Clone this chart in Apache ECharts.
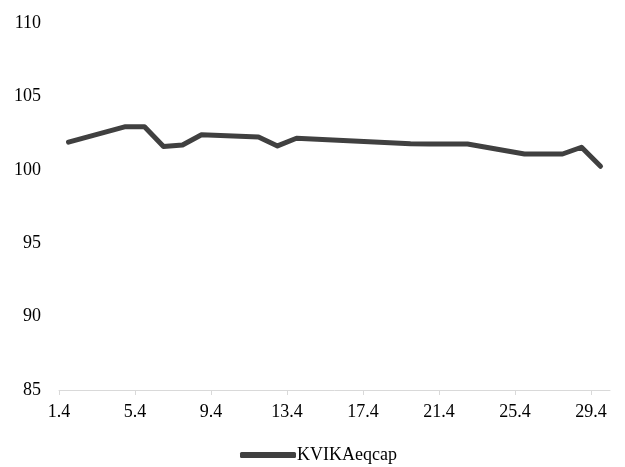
<!DOCTYPE html>
<html>
<head>
<meta charset="utf-8">
<script src="https://cdn.jsdelivr.net/npm/echarts@6/dist/echarts.min.js"></script>
<style>
html,body{margin:0;padding:0;background:#fff;}
#chart{width:625px;height:467px;}
</style>
</head>
<body>
<div id="chart"></div>
<script>
// Trading days in April (day of month)
const days = [1, 4, 5, 6, 7, 8, 11, 12, 13, 19, 20, 22, 25, 26, 27, 28, 29];
// KVIKAeqcap index values
const values = [101.9, 102.95, 102.95, 101.6, 101.7, 102.4, 102.25, 101.64, 102.16, 101.78, 101.77, 101.77, 101.09, 101.09, 101.09, 101.55, 100.25];
// X tick label days
const tickDays = [1, 5, 9, 13, 17, 21, 25, 29];
const seriesName = 'KVIKAeqcap';
const yTicks = [85, 90, 95, 100, 105, 110];

const font = '"Liberation Serif", "Times New Roman", serif';
// Excel date axis: each day occupies a slot; ticks at slot boundaries
const tickPos = tickDays.map(d => d - 0.5);

const chart = echarts.init(document.getElementById('chart'));
chart.setOption({
  animation: false,
  grid: { left: 59, right: 15, top: 23.3, bottom: 77, containLabel: false },
  xAxis: {
    type: 'value',
    min: days[0] - 0.5,
    max: days[days.length - 1] + 0.5,
    splitLine: { show: false },
    axisLine: { show: true, lineStyle: { color: '#d9d9d9', width: 1 } },
    axisTick: { show: true, customValues: tickPos, length: 5, lineStyle: { color: '#d9d9d9' } },
    axisLabel: {
      customValues: tickPos,
      formatter: v => (v + 0.5) + '.4',
      color: '#000', fontFamily: font, fontSize: 18, margin: 13
    }
  },
  yAxis: {
    type: 'value',
    min: yTicks[0],
    max: yTicks[yTicks.length - 1],
    interval: 5,
    splitLine: { show: false },
    axisLine: { show: false },
    axisTick: { show: false },
    axisLabel: { color: '#000', fontFamily: font, fontSize: 18, margin: 18 }
  },
  legend: {
    top: 446,
    left: 240,
    icon: 'roundRect',
    itemWidth: 56,
    itemHeight: 6,
    itemGap: 2,
    padding: 0,
    textStyle: { color: '#000', fontFamily: font, fontSize: 18, padding: [0, 0, 0, -4] },
    data: [seriesName]
  },
  series: [{
    name: seriesName,
    type: 'line',
    data: days.map((d, i) => [d, values[i]]),
    showSymbol: false,
    symbol: 'none',
    itemStyle: { color: '#404040' },
    lineStyle: { color: '#404040', width: 5, cap: 'round', join: 'round' }
  }]
});
</script>
</body>
</html>
